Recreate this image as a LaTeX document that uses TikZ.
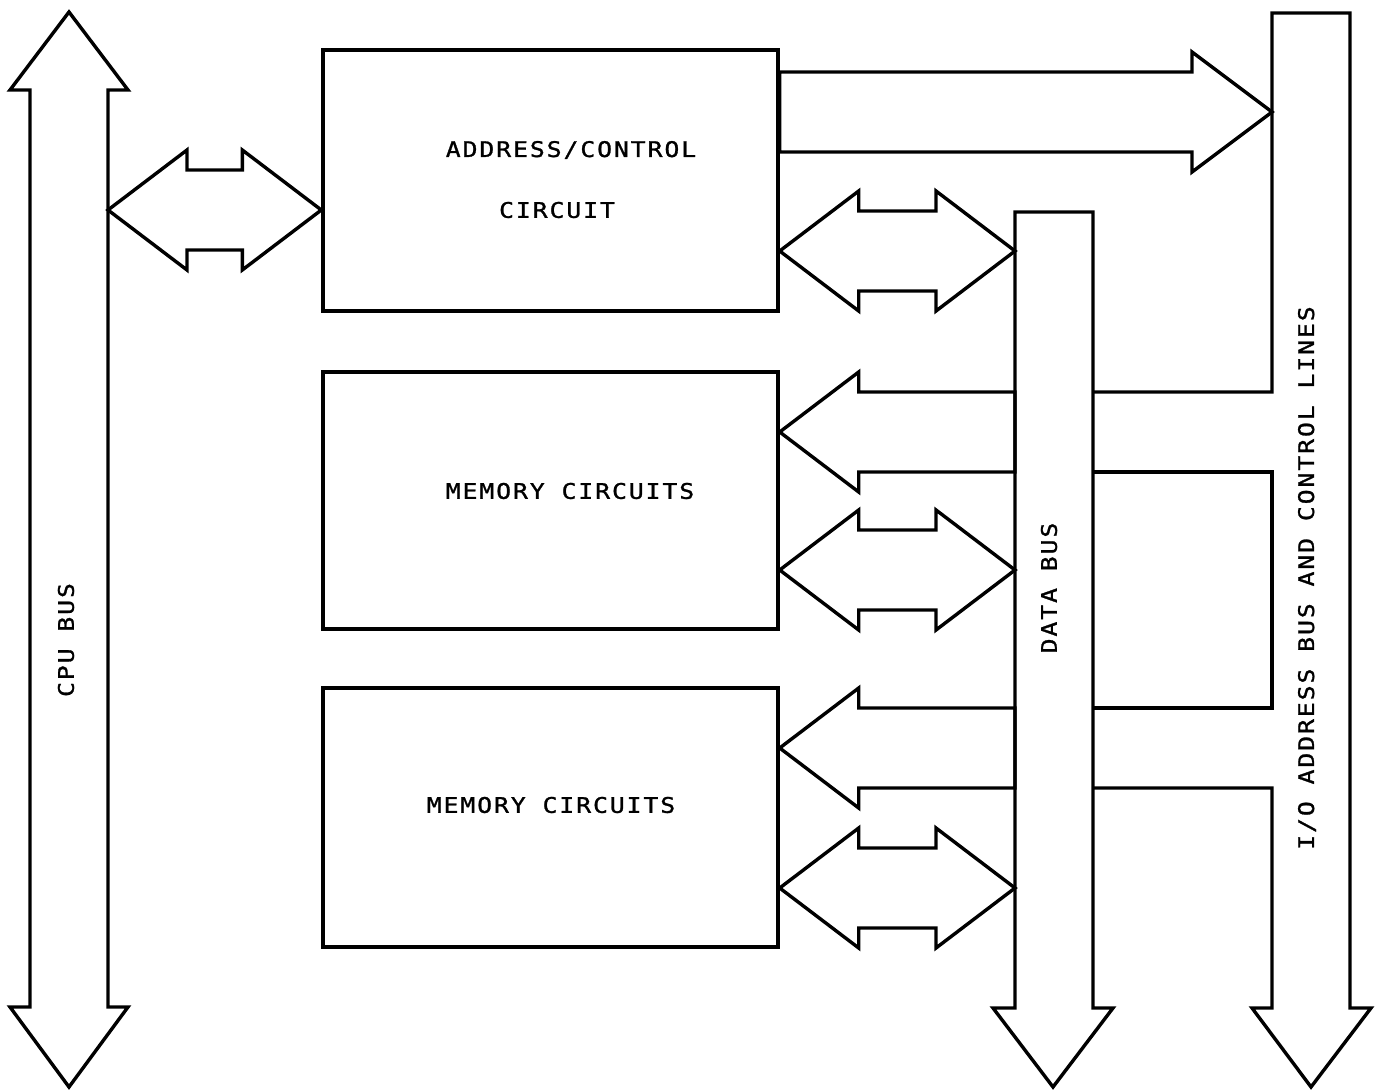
\documentclass[tikz,border=0pt]{standalone}
\usepackage{fontspec}
\newfontfamily\plotfont{DejaVu Sans Mono}[FakeStretch=1.15,LetterSpace=9,FakeBold=1.2]
\usetikzlibrary{calc}

% arrow with a head at both ends, tips #1 (left) and #2 (right)
\newcommand{\twoway}[2]{%
  \draw[bus] let \p1=(#1), \p2=(#2) in
    (\p1) -- (\x1+79pt,\y1+60pt) -- (\x1+79pt,\y1+40pt) -- (\x2-79pt,\y1+40pt)
    -- (\x2-79pt,\y1+60pt) -- (\p2) -- (\x2-79pt,\y1-60pt) -- (\x2-79pt,\y1-40pt)
    -- (\x1+79pt,\y1-40pt) -- (\x1+79pt,\y1-60pt) -- cycle;}
% arrow pointing left, tip #1, tail #2
\newcommand{\leftway}[2]{%
  \draw[bus] let \p1=(#1), \p2=(#2) in
    (\p1) -- (\x1+79pt,\y1+60pt) -- (\x1+79pt,\y1+40pt) -- (\x2,\y1+40pt)
    -- (\x2,\y1-40pt) -- (\x1+79pt,\y1-40pt) -- (\x1+79pt,\y1-60pt) -- cycle;}
% arrow pointing right, tail #1, tip #2
\newcommand{\rightway}[2]{%
  \draw[bus] let \p1=(#1), \p2=(#2) in
    (\p2) -- (\x2-80pt,\y2+60pt) -- (\x2-80pt,\y2+40pt) -- (\x1,\y2+40pt)
    -- (\x1,\y2-40pt) -- (\x2-80pt,\y2-40pt) -- (\x2-80pt,\y2-60pt) -- cycle;}

\begin{document}
\begin{tikzpicture}[x=1pt, y=-1pt, line join=miter,
    bus/.style={line width=3.4pt},
    block/.style={draw, line width=3.4pt, rectangle, inner sep=0pt},
    lbl/.style={font=\plotfont\fontsize{21.5}{25}\selectfont, inner sep=0pt}]
  \useasboundingbox (0,0) rectangle (1378,1091);

  \node[block, minimum width=455pt, minimum height=261pt] (adc) at (550.5,180.5) {};
  \node[block, minimum width=455pt, minimum height=257pt] (memA) at (550.5,500.5) {};
  \node[block, minimum width=455pt, minimum height=259pt] (memB) at (550.5,817.5) {};

  \node[lbl] (adcTop) at (571,150) {ADDRESS/CONTROL};
  \node[lbl] (adcBot) at (557,210) {CIRCUIT};
  \node[lbl] (memAtxt) at (570,491) {MEMORY CIRCUITS};
  \node[lbl] (memBtxt) at (551,805) {MEMORY CIRCUITS};

  % buses
  \draw[bus] (69,12) -- (128,90) -- (108,90) -- (108,1007) -- (128,1007) -- (69,1087)
    -- (10,1007) -- (30,1007) -- (30,90) -- (10,90) -- cycle;
  \draw[bus] (1015,212) -- (1015,1008) -- (993,1008) -- (1053,1087) -- (1113,1008)
    -- (1093,1008) -- (1093,212) -- cycle;
  \draw[bus] (1093,392) -- (1272,392) -- (1272,13) -- (1350,13) -- (1350,1008)
    -- (1371,1008) -- (1311,1087) -- (1252,1008) -- (1272,1008) -- (1272,788) -- (1093,788);
  \draw[bus] (1093,472) -- (1272,472) -- (1272,708) -- (1093,708);

  \node[lbl, rotate=90] (cpuTxt) at (66,640) {CPU BUS};
  \node[lbl, rotate=90] (dataTxt) at (1049,588) {DATA BUS};
  \node[lbl, rotate=90] (ioTxt) at (1307,578) {I/O ADDRESS BUS AND CONTROL LINES};

  % arrow ends
  \coordinate (cpuR) at (108,210);
  \coordinate (adcIn) at ([yshift=-29.5pt]adc.west);
  \coordinate (adcOut) at ([yshift=68.5pt]adc.east);
  \coordinate (ioL) at (1272,112);
  \coordinate (adcData) at ([yshift=-70.5pt]adc.east);
  \coordinate (dataA) at (1015,251);
  \coordinate (memAin) at ([yshift=68.5pt]memA.east);
  \coordinate (dataB) at (1015,432);
  \coordinate (memAio) at ([yshift=-69.5pt]memA.east);
  \coordinate (dataC) at (1015,570);
  \coordinate (memBin) at ([yshift=69.5pt]memB.east);
  \coordinate (dataD) at (1015,748);
  \coordinate (memBio) at ([yshift=-70.5pt]memB.east);
  \coordinate (dataE) at (1015,888);

  \twoway{cpuR}{adcIn}
  \rightway{adcOut}{ioL}
  \twoway{adcData}{dataA}
  \leftway{memAin}{dataB}
  \twoway{memAio}{dataC}
  \leftway{memBin}{dataD}
  \twoway{memBio}{dataE}
\end{tikzpicture}
\end{document}
